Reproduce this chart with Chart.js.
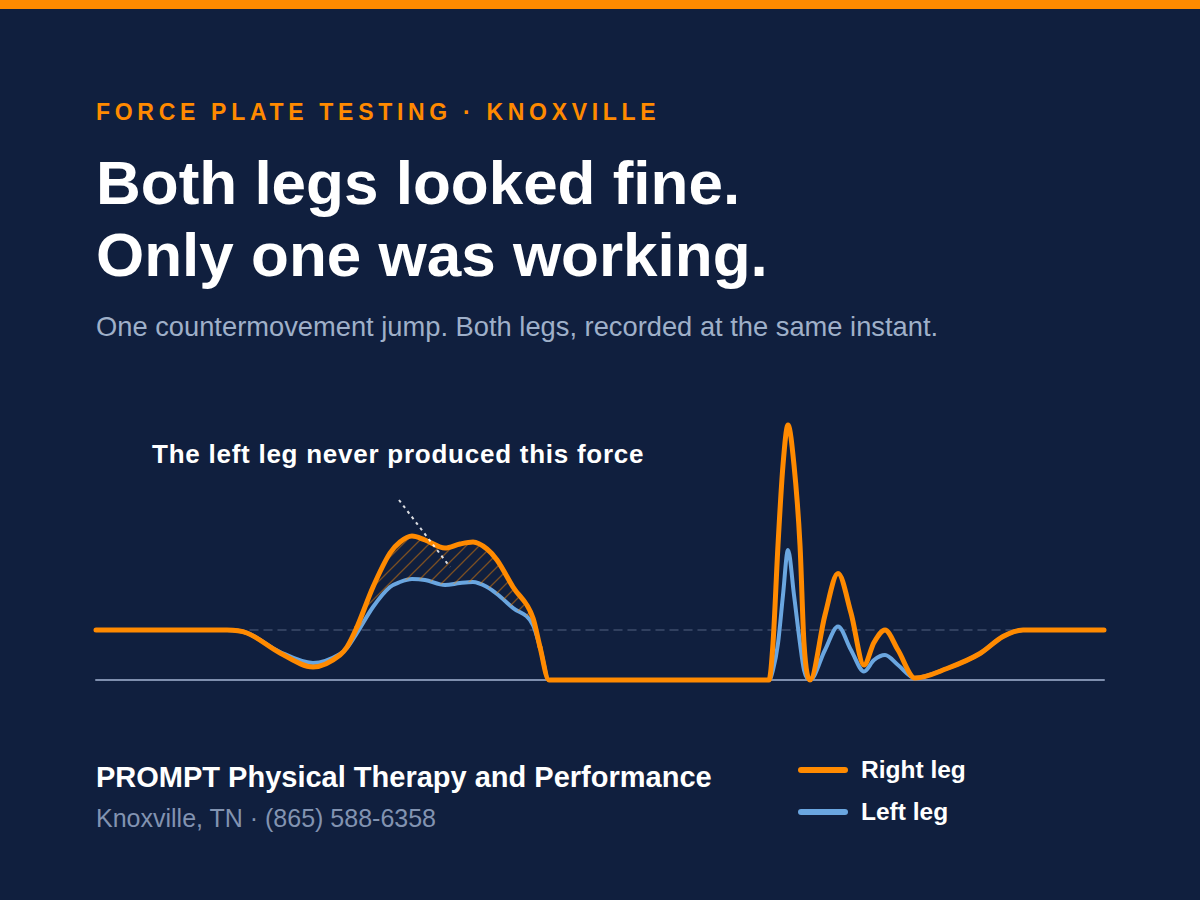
<!DOCTYPE html>
<html>
<head>
<meta charset="utf-8">
<script src="https://cdn.jsdelivr.net/npm/chart.js@4/dist/chart.umd.min.js"></script>
<style>
    html, body { margin: 0; padding: 0; }
    body {
        width: 1200px; height: 900px; overflow: hidden; position: relative;
        background: #101f3e; font-family: "Liberation Sans", Arial, sans-serif; color: #fff;
    }
    .top-bar { position: absolute; left: 0; top: 0; width: 1200px; height: 9px; background: #ff8a00; }
    .eyebrow {
        position: absolute; left: 96px; top: 99px; font-size: 23px; font-weight: bold;
        letter-spacing: 4.7px; color: #ff8a00; white-space: nowrap;
    }
    .title {
        position: absolute; left: 96px; top: 147px; font-size: 62px; font-weight: bold;
        line-height: 72px; margin: 0; white-space: nowrap;
    }
    .subtitle { position: absolute; left: 96px; top: 311px; font-size: 27.3px; color: #9fb0c9; white-space: nowrap; }
    .note {
        position: absolute; left: 152px; top: 439px; font-size: 26px; font-weight: bold;
        letter-spacing: 0.75px; white-space: nowrap;
    }
    .chart-box { position: absolute; left: 86px; top: 380px; width: 1028px; height: 320px; }
    .brand { position: absolute; left: 96px; top: 761px; font-size: 29px; font-weight: bold; white-space: nowrap; }
    .contact { position: absolute; left: 96px; top: 804px; font-size: 25px; color: #8293b1; white-space: nowrap; }
    .legend { position: absolute; left: 798px; top: 749px; }
    .legend-item { display: flex; align-items: center; height: 42px; font-size: 24.5px; font-weight: bold; }
    .legend-item i { display: inline-block; width: 50px; height: 6px; border-radius: 3px; margin-right: 13px; }
</style>
</head>
<body>
<div class="top-bar"></div>
<div class="eyebrow">FORCE PLATE TESTING · KNOXVILLE</div>
<h1 class="title">Both legs looked fine.<br>Only one was working.</h1>
<div class="subtitle">One countermovement jump. Both legs, recorded at the same instant.</div>
<div class="note">The left leg never produced this force</div>
<div class="chart-box"><canvas id="force-chart"></canvas></div>
<div class="brand">PROMPT Physical Therapy and Performance</div>
<div class="contact">Knoxville, TN · (865) 588-6358</div>
<div class="legend">
    <div class="legend-item"><i style="background:#ff8a00"></i>Right leg</div>
    <div class="legend-item"><i style="background:#6aa6e0"></i>Left leg</div>
</div>

<script>
// time in ms, force in multiples of body weight per leg
var times    = [0, 131, 151, 184, 217, 244, 251, 261, 277, 294, 304, 316, 329, 349, 364, 377, 391, 401, 417, 437, 444, 453,
                673, 677, 682, 687, 692, 698, 704, 708, 714,
                729, 742, 755, 768, 778, 789, 802, 819,
                851, 884, 907, 927, 1008];
var rightLeg = [1.0, 1.0, 0.94, 0.54, 0.26, 0.5, 0.66, 1.06, 1.86, 2.54, 2.76, 2.88, 2.8, 2.64, 2.72, 2.76, 2.62, 2.4, 1.86, 1.24, 0.66, 0,
                0, 0.73, 2.7, 4.3, 5.1, 4.3, 2.7, 0.73, 0,
                1.3, 2.13, 1.34, 0.3, 0.75, 1.0, 0.6, 0.04,
                0.23, 0.53, 0.87, 1.0, 1.0];
var leftLeg  = [1.0, 1.0, 0.94, 0.56, 0.34, 0.52, 0.64, 0.94, 1.46, 1.86, 1.96, 2.02, 2.0, 1.9, 1.94, 1.96, 1.86, 1.72, 1.44, 1.1, 0.66, 0,
                0, 0.2, 0.73, 1.7, 2.6, 1.7, 0.73, 0.2, 0,
                0.6, 1.07, 0.6, 0.17, 0.4, 0.5, 0.3, 0.04,
                0.23, 0.53, 0.87, 1.0, 1.0];
var bodyWeight = 1.0;
var timeRange = [0, 1008];
// hatched gap between the legs (ms)
var gapRange = [261, 444];
// leader line of the note: from [time, force] to [time, force]
var noteLine = [[303, 3.6], [354, 2.26]];

(function() { "use strict";

    function points(values) {
        return times.map(function(t, i) { return { x: t, y: values[i] }; });
    }

    // diagonal hatch for the gap between the legs
    var tile = document.createElement('canvas');
    tile.width = 13; tile.height = 13;
    var tc = tile.getContext('2d');
    tc.strokeStyle = 'rgba(255,138,0,0.45)';
    tc.lineWidth = 1.3;
    tc.beginPath();
    tc.moveTo(0, 13); tc.lineTo(13, 0);
    tc.moveTo(-6.5, 6.5); tc.lineTo(6.5, -6.5);
    tc.moveTo(6.5, 19.5); tc.lineTo(19.5, 6.5);
    tc.stroke();
    var hatch = tc.createPattern(tile, 'repeat');

    var notePlugin = {
        id: 'noteLine',
        afterDatasetsDraw: function(chart) {
            var ctx = chart.ctx, xs = chart.scales.x, ys = chart.scales.y;
            ctx.save();
            ctx.strokeStyle = 'rgba(255,255,255,0.85)';
            ctx.lineWidth = 2;
            ctx.setLineDash([3, 4]);
            ctx.beginPath();
            ctx.moveTo(xs.getPixelForValue(noteLine[0][0]), ys.getPixelForValue(noteLine[0][1]));
            ctx.lineTo(xs.getPixelForValue(noteLine[1][0]), ys.getPixelForValue(noteLine[1][1]));
            ctx.stroke();
            ctx.restore();
        }
    };

    new Chart(document.getElementById('force-chart'), {
        type: 'line',
        data: {
            datasets: [
                {
                    label: 'Right leg',
                    data: points(rightLeg),
                    borderColor: '#ff8a00',
                    backgroundColor: 'rgba(0,0,0,0)',
                    borderWidth: 5,
                    cubicInterpolationMode: 'monotone',
                    fill: { target: 1, above: hatch, below: 'rgba(0,0,0,0)' },
                    segment: {
                        backgroundColor: function(ctx) {
                            var inGap = times[ctx.p0DataIndex] >= gapRange[0] && times[ctx.p1DataIndex] <= gapRange[1];
                            return inGap ? hatch : 'rgba(0,0,0,0)';
                        }
                    },
                    order: 0
                },
                {
                    label: 'Left leg',
                    data: points(leftLeg),
                    borderColor: '#6aa6e0',
                    borderWidth: 4,
                    cubicInterpolationMode: 'monotone',
                    fill: false,
                    order: 1
                },
                {
                    label: 'Body weight',
                    data: [{ x: timeRange[0], y: bodyWeight }, { x: timeRange[1], y: bodyWeight }],
                    borderColor: '#3c4c6b',
                    borderWidth: 1.5,
                    borderDash: [8, 6],
                    fill: false,
                    order: 2
                },
                {
                    label: 'Zero',
                    data: [{ x: timeRange[0], y: 0 }, { x: timeRange[1], y: 0 }],
                    borderColor: '#7f8fae',
                    borderWidth: 2,
                    fill: false,
                    order: 3
                }
            ]
        },
        options: {
            responsive: true,
            maintainAspectRatio: false,
            animation: false,
            events: [],
            layout: { padding: 0 },
            plugins: { legend: { display: false }, tooltip: { enabled: false } },
            elements: {
                point: { radius: 0 },
                line: { borderCapStyle: 'round', borderJoinStyle: 'round', tension: 0 }
            },
            scales: {
                x: { type: 'linear', min: -10, max: 1018, display: false },
                y: { min: -0.4, max: 6.0, display: false }
            }
        },
        plugins: [notePlugin]
    });

})();
</script>
</body>
</html>
